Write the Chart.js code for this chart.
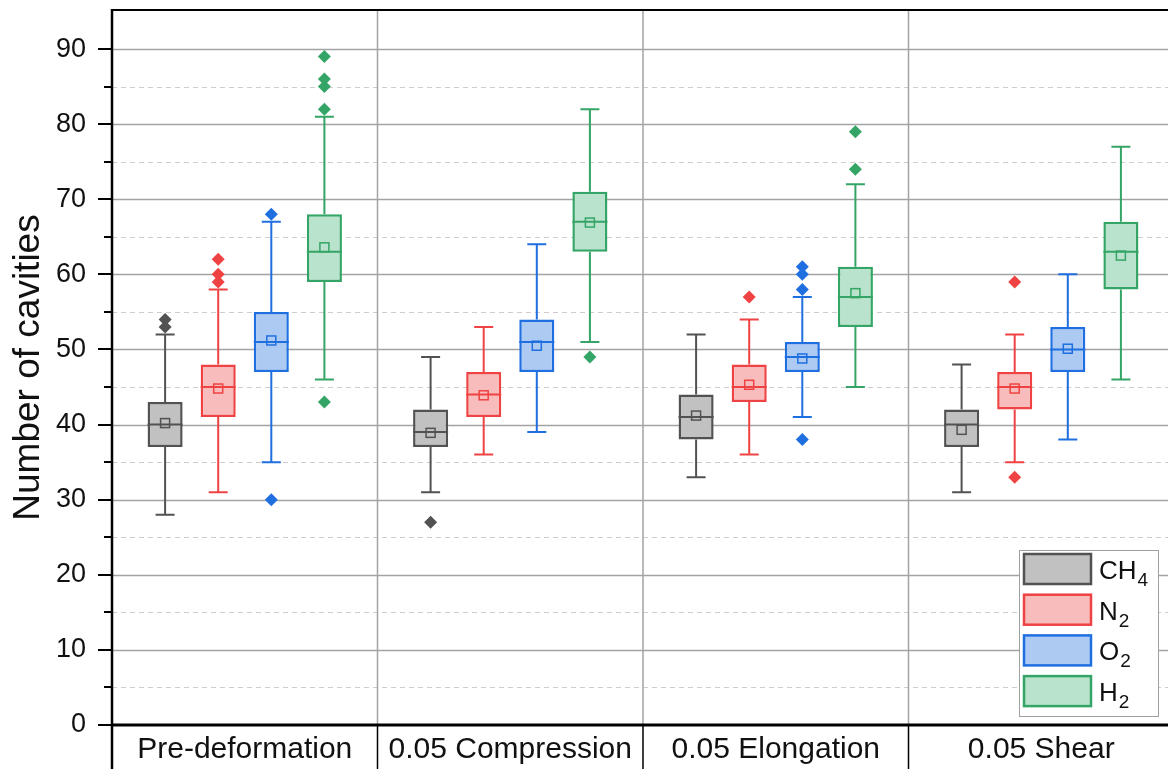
<!DOCTYPE html>
<html lang="en">
<head>
  <meta charset="UTF-8">
  <title>Number of cavities</title>
  <script src="https://cdn.jsdelivr.net/npm/chart.js"></script>
  <style>
    html, body { margin: 0; padding: 0; background: #fff; overflow: hidden; }
    #wrap { width: 1174px; height: 769px; position: relative; }
  </style>
</head>
<body>
  <div id="wrap"><canvas id="cavityChart"></canvas></div>

  <script>
    const categories = ['Pre-deformation', '0.05 Compression', '0.05 Elongation', '0.05 Shear'];
    const seriesNames = ['CH4', 'N2', 'O2', 'H2'];

    // one row per gas (CH4, N2, O2, H2), one column per deformation state
    const whiskerLow = [
      [28, 31, 33, 31],
      [31, 36, 36, 35],
      [35, 39, 41, 38],
      [46, 51, 45, 46]
    ];
    const q1 = [
      [37, 37, 38, 37],
      [41, 41, 43, 42],
      [47, 47, 47, 47],
      [59, 63, 53, 58]
    ];
    const medians = [
      [40, 39, 41, 40],
      [45, 44, 45, 45],
      [51, 51, 49, 50],
      [63, 67, 57, 63]
    ];
    const q3 = [
      [43, 42, 44, 42],
      [48, 47, 48, 47],
      [55, 54, 51, 53],
      [68, 71, 61, 67]
    ];
    const whiskerHigh = [
      [52, 49, 52, 48],
      [58, 53, 54, 52],
      [67, 64, 57, 60],
      [81, 82, 72, 77]
    ];
    const means = [
      [40.2, 38.9, 41.2, 39.3],
      [44.8, 43.9, 45.3, 44.8],
      [51.2, 50.5, 48.8, 50.1],
      [63.6, 66.9, 57.5, 62.5]
    ];
    const outliers = [
      [[53, 54], [27], [], []],
      [[59, 60, 62], [], [57], [33, 59]],
      [[30, 68], [], [38, 58, 60, 61], []],
      [[43, 82, 85, 86, 89], [49], [74, 79], []]
    ];
    const yTicks = [0, 10, 20, 30, 40, 50, 60, 70, 80, 90];

    const strokeColors = ['#525252', '#ef4343', '#1f6fe0', '#34a566'];
    const fillColors = ['#c1c1c1', '#f9bcbc', '#adcaf3', '#b9e3cc'];
    const FONT = "Arial, 'Liberation Sans', sans-serif";

    // grid, category dividers behind the boxes
    const gridPlugin = {
      id: 'gridBehind',
      beforeDatasetsDraw(chart) {
        const { ctx, chartArea: a, scales: { x, y } } = chart;
        ctx.save();
        for (let v = 5; v <= 90; v += 5) {
          const py = Math.round(y.getPixelForValue(v)) + 0.5;
          ctx.beginPath();
          if (v % 10 === 0) {
            ctx.setLineDash([]);
            ctx.strokeStyle = '#a3a3a3';
            ctx.lineWidth = 1.5;
          } else {
            ctx.setLineDash([5, 4]);
            ctx.strokeStyle = '#cdcdcd';
            ctx.lineWidth = 1;
          }
          ctx.moveTo(a.left, py);
          ctx.lineTo(a.right, py);
          ctx.stroke();
        }
        ctx.setLineDash([]);
        ctx.strokeStyle = '#a3a3a3';
        ctx.lineWidth = 1.5;
        for (let i = 0; i < categories.length - 1; i++) {
          const px = (x.getPixelForValue(i) + x.getPixelForValue(i + 1)) / 2;
          ctx.beginPath();
          ctx.moveTo(px, a.top);
          ctx.lineTo(px, a.bottom);
          ctx.stroke();
        }
        ctx.restore();
      }
    };

    // whiskers, medians, means and outliers on top of each box
    const boxPlugin = {
      id: 'boxParts',
      afterDatasetsDraw(chart) {
        const { ctx, scales: { y } } = chart;
        ctx.save();
        chart.data.datasets.forEach((ds, s) => {
          const meta = chart.getDatasetMeta(s);
          meta.data.forEach((bar, c) => {
            const cx = bar.x;
            const half = bar.width / 2;
            ctx.strokeStyle = strokeColors[s];
            ctx.fillStyle = strokeColors[s];
            ctx.lineWidth = 2;

            const yLo = y.getPixelForValue(whiskerLow[s][c]);
            const yHi = y.getPixelForValue(whiskerHigh[s][c]);
            const yQ1 = y.getPixelForValue(q1[s][c]);
            const yQ3 = y.getPixelForValue(q3[s][c]);
            ctx.beginPath();
            ctx.moveTo(cx, yQ3); ctx.lineTo(cx, yHi);
            ctx.moveTo(cx, yQ1); ctx.lineTo(cx, yLo);
            ctx.moveTo(cx - 9.5, yHi); ctx.lineTo(cx + 9.5, yHi);
            ctx.moveTo(cx - 9.5, yLo); ctx.lineTo(cx + 9.5, yLo);
            ctx.stroke();

            const yMed = y.getPixelForValue(medians[s][c]);
            ctx.beginPath();
            ctx.moveTo(cx - half, yMed); ctx.lineTo(cx + half, yMed);
            ctx.stroke();

            const yMean = y.getPixelForValue(means[s][c]);
            ctx.lineWidth = 1.5;
            ctx.strokeRect(cx - 4.5, yMean - 4.5, 9, 9);

            outliers[s][c].forEach(v => {
              const py = y.getPixelForValue(v);
              ctx.beginPath();
              ctx.moveTo(cx, py - 6.5);
              ctx.lineTo(cx + 6.5, py);
              ctx.lineTo(cx, py + 6.5);
              ctx.lineTo(cx - 6.5, py);
              ctx.closePath();
              ctx.fill();
            });
          });
        });
        ctx.restore();
      }
    };

    // axis frame, tick marks, label-row dividers and the legend
    const framePlugin = {
      id: 'frame',
      afterDraw(chart) {
        const { ctx, chartArea: a, scales: { x, y } } = chart;
        const h = chart.height;
        ctx.save();
        ctx.strokeStyle = '#000';
        ctx.lineWidth = 1.5;
        for (let i = 0; i < categories.length - 1; i++) {
          const px = (x.getPixelForValue(i) + x.getPixelForValue(i + 1)) / 2;
          ctx.beginPath();
          ctx.moveTo(px, a.bottom);
          ctx.lineTo(px, h);
          ctx.stroke();
        }
        ctx.lineWidth = 2;
        ctx.beginPath();
        ctx.moveTo(a.left, a.top); ctx.lineTo(a.right, a.top);
        ctx.stroke();
        ctx.lineWidth = 3;
        ctx.beginPath();
        ctx.moveTo(a.left - 1, a.bottom); ctx.lineTo(a.right, a.bottom);
        ctx.stroke();
        ctx.lineWidth = 2.5;
        ctx.beginPath();
        ctx.moveTo(a.left, a.top - 1); ctx.lineTo(a.left, h);
        ctx.stroke();
        ctx.lineWidth = 2;
        for (let v = 0; v <= 90; v += 5) {
          const py = Math.round(y.getPixelForValue(v));
          const len = v % 10 === 0 ? 14 : 8;
          ctx.beginPath();
          ctx.moveTo(a.left - len, py); ctx.lineTo(a.left, py);
          ctx.stroke();
        }

        // legend
        const lx = 1019, ly = 550, lw = 139, lh = 166;
        ctx.fillStyle = '#fff';
        ctx.fillRect(lx, ly, lw, lh);
        ctx.strokeStyle = '#a0a0a0';
        ctx.lineWidth = 1;
        ctx.strokeRect(lx + 0.5, ly + 0.5, lw, lh);
        seriesNames.forEach((name, i) => {
          const sy = ly + 4 + i * 40.7;
          ctx.fillStyle = fillColors[i];
          ctx.fillRect(lx + 5, sy, 67, 30);
          ctx.strokeStyle = strokeColors[i];
          ctx.lineWidth = 2.5;
          ctx.strokeRect(lx + 5, sy, 67, 30);
          const m = name.match(/^(\D+)(\d*)$/);
          ctx.fillStyle = '#111';
          ctx.textBaseline = 'alphabetic';
          ctx.textAlign = 'left';
          ctx.font = '26px ' + FONT;
          const base = sy + 25;
          ctx.fillText(m[1], lx + 80, base);
          const w = ctx.measureText(m[1]).width;
          ctx.font = '19px ' + FONT;
          ctx.fillText(m[2], lx + 81 + w, base + 7);
        });
        ctx.restore();
      }
    };

    const datasets = seriesNames.map((name, s) => ({
      label: name,
      data: q1[s].map((v, c) => [v, q3[s][c]]),
      backgroundColor: fillColors[s],
      borderColor: strokeColors[s],
      borderWidth: 2.5,
      borderSkipped: false,
      categoryPercentage: 0.8,
      barPercentage: 0.66
    }));

    new Chart(document.getElementById('cavityChart'), {
      type: 'bar',
      data: { labels: categories, datasets },
      options: {
        responsive: true,
        maintainAspectRatio: false,
        animation: false,
        layout: { padding: { top: 10, left: 0, right: 0, bottom: 0 } },
        plugins: {
          legend: { display: false },
          tooltip: { enabled: false }
        },
        scales: {
          x: {
            grid: { display: false, drawTicks: false },
            border: { display: false },
            ticks: { color: '#111', padding: 7, font: { size: 30, family: FONT } },
            afterFit(scale) {
              scale.height = 44;
              scale.paddingLeft = 0;
              scale.paddingRight = 0;
            }
          },
          y: {
            min: 0,
            max: 95.2,
            grid: { display: false, drawTicks: false },
            border: { display: false },
            afterBuildTicks(scale) { scale.ticks = yTicks.map(v => ({ value: v })); },
            ticks: { color: '#111', padding: 26, font: { size: 27, family: FONT } },
            title: {
              display: true,
              text: 'Number of cavities',
              color: '#111',
              padding: { top: 7, bottom: 0 },
              font: { size: 37, family: FONT }
            },
            afterFit(scale) {
              scale.width = 112;
              scale.paddingTop = 0;
              scale.paddingBottom = 0;
            }
          }
        }
      },
      plugins: [gridPlugin, boxPlugin, framePlugin]
    });
  </script>
</body>
</html>
